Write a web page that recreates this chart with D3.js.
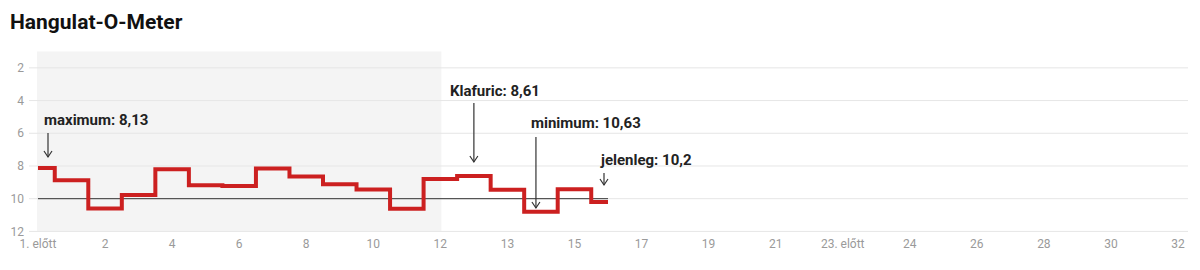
<!DOCTYPE html>
<html>
<head>
<meta charset="utf-8">
<script src="https://cdn.jsdelivr.net/npm/d3@7"></script>
<style>
  body { margin: 0; background: #fff; font-family: Roboto, "Noto Sans", sans-serif; }
  .title { font-weight: bold; font-size: 21px; fill: #111; }
  .axis text { fill: #9a9a9a; font-size: 12px; }
  .note { font-weight: bold; font-size: 15px; fill: #222; }
</style>
</head>
<body>
<div id="chart"></div>
<script>
//////////////////////////// data /////////////////////////////////////////

// rounds: "1. előtt", 1..12, "13. előtt", 13..22, "23. előtt", 23..32
const rounds = ["1. előtt"]
  .concat(d3.range(1, 13).map(String))
  .concat(["13. előtt"])
  .concat(d3.range(13, 23).map(String))
  .concat(["23. előtt"])
  .concat(d3.range(23, 33).map(String));

const moodValues = [8.13, 8.87, 10.6, 9.77, 8.2, 9.18, 9.22, 8.15, 8.64, 9.12,
  9.44, 10.62, 8.8, 8.61, 9.45, 10.8, 9.42, 10.2];

const yTicks = [2, 4, 6, 8, 10, 12];
const refValue = 10;
const shadedRounds = ["1. előtt", "12"];

const notes = [
  { label: "maximum: 8,13", round: "1. előtt" },
  { label: "Klafuric: 8,61", round: "13. előtt" },
  { label: "minimum: 10,63", round: "14" },
  { label: "jelenleg: 10,2", round: "16" }
];

//////////////////////////// set up svg ///////////////////////////////////

const width = 1200;
const height = 270;

const svg = d3.select("#chart").append("svg")
  .attr("width", width)
  .attr("height", height);

svg.append("text").attr("class", "title")
  .attr("x", 10).attr("y", 29)
  .text("Hangulat-O-Meter");

//////////////////////////// scales ///////////////////////////////////////

const xScale = d3.scalePoint().domain(rounds).range([38, 1178]);
const yScale = d3.scaleLinear().domain([1, 12]).range([51.5, 231.4]);

// shaded first half of season
svg.append("rect")
  .attr("x", xScale(shadedRounds[0]) - 1)
  .attr("y", yScale(1))
  .attr("width", xScale(shadedRounds[1]) - xScale(shadedRounds[0]) + 2)
  .attr("height", yScale(12) - yScale(1))
  .attr("fill", "#f4f4f4");

// grid
svg.append("g").selectAll("line")
  .data(yTicks).join("line")
  .attr("x1", 29).attr("x2", 1188)
  .attr("y1", d => yScale(d)).attr("y2", d => yScale(d))
  .attr("stroke", "#e6e6e6").attr("stroke-width", 1);

// y labels
svg.append("g").attr("class", "axis").selectAll("text")
  .data(yTicks).join("text")
  .attr("x", 24).attr("y", d => yScale(d)).attr("dy", "0.35em")
  .attr("text-anchor", "end")
  .text(d => d);

// x labels (every second round)
svg.append("g").attr("class", "axis").selectAll("text")
  .data(rounds.filter((d, i) => i % 2 === 0)).join("text")
  .attr("x", d => xScale(d)).attr("y", 248)
  .attr("text-anchor", "middle")
  .text(d => d);

// reference line
svg.append("line")
  .attr("x1", xScale(rounds[0])).attr("x2", xScale(rounds[moodValues.length - 1]))
  .attr("y1", yScale(refValue)).attr("y2", yScale(refValue))
  .attr("stroke", "#333").attr("stroke-width", 1);

//////////////////////////// plot /////////////////////////////////////////

const line = d3.line()
  .x((d, i) => xScale(rounds[i]))
  .y(d => yScale(d))
  .curve(d3.curveStep);

svg.append("path")
  .datum(moodValues)
  .attr("d", line)
  .attr("fill", "none")
  .attr("stroke", "#cc2020")
  .attr("stroke-width", 4);

//////////////////////////// annotations //////////////////////////////////

// layout for each note: arrow x offset, text offset, arrow top/bottom (px)
const noteLayout = [
  { ax: 10, tx: 6, ty: 125, y1: 133, y2: 157 },
  { ax: 0, tx: -24, ty: 96, y1: 103, y2: 162 },
  { ax: -5, tx: -10, ty: 128, y1: 137, y2: 208 },
  { ax: -4, tx: -7, ty: 165, y1: 173, y2: 185 }
];

const g = svg.append("g");
notes.forEach((n, i) => {
  const l = noteLayout[i];
  const x = xScale(n.round) + l.ax;
  g.append("text").attr("class", "note")
    .attr("x", xScale(n.round) + l.tx).attr("y", l.ty)
    .text(n.label);
  g.append("line")
    .attr("x1", x).attr("x2", x).attr("y1", l.y1).attr("y2", l.y2)
    .attr("stroke", "#333").attr("stroke-width", 1.2);
  g.append("path")
    .attr("d", `M${x - 4},${l.y2 - 6}L${x},${l.y2}L${x + 4},${l.y2 - 6}`)
    .attr("fill", "none").attr("stroke", "#333").attr("stroke-width", 1.2);
});
</script>
</body>
</html>
